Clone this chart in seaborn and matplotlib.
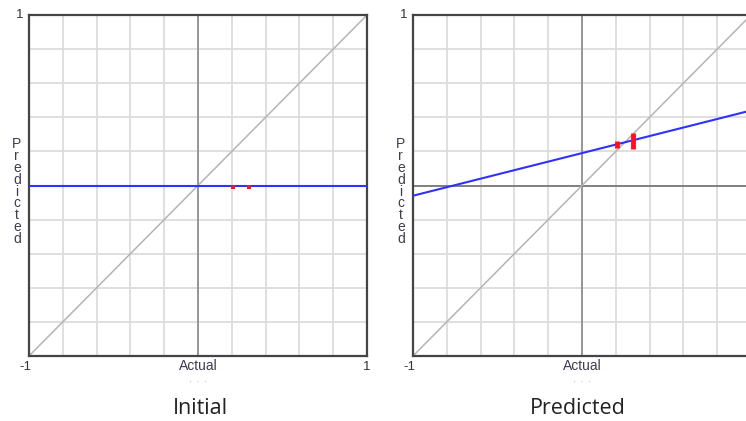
import numpy as np
import matplotlib.pyplot as plt
import seaborn as sns

# ----------------------------
# data
# ----------------------------
panel_titles = ['Initial', 'Predicted']

fit_x = [-1.0, 1.0]
fit_y_initial = [0.0, 0.0]
fit_y_predicted = [-0.06, 0.44]

obs_x = [0.205, 0.30]
obs_y_initial = [-0.01, -0.01]
obs_y_predicted = [0.24, 0.26]
obs_err_predicted = [0.02, 0.047]

grid_ticks = np.linspace(-1, 1, 11)

# ----------------------------
# figure
# ----------------------------
sns.set_style("white")
plt.rcParams['font.family'] = ['Liberation Sans', 'DejaVu Sans']

fig = plt.figure(figsize=(7.46, 4.21), dpi=100)
ax_w = 338 / 746
ax_h = 341 / 421
ax_b = (421 - 356) / 421
ax1 = fig.add_axes([29 / 746, ax_b, ax_w, ax_h])
ax2 = fig.add_axes([413 / 746, ax_b, ax_w, ax_h])

label_col = '#3c3c4c'


def setup_panel(ax, show_right_label):
    ax.set_xlim(-1, 1)
    ax.set_ylim(-1, 1)
    ax.set_xticks(grid_ticks)
    ax.set_yticks(grid_ticks)
    ax.tick_params(length=0, labelbottom=False, labelleft=False)
    ax.grid(True, color='#dcdcdc', lw=1.3)
    ax.set_axisbelow(True)
    for s in ax.spines.values():
        s.set_color('#444444')
        s.set_linewidth(1.6)
    ax.axvline(0, color='#8a8a8a', lw=1.2, zorder=1)
    ax.axhline(0, color='#707070', lw=1.2, zorder=1)
    # identity line
    sns.lineplot(x=fit_x, y=fit_x, ax=ax, color='#b4b4b4', lw=1.1, zorder=2)
    ax.text(-0.015, 1.0, '1', transform=ax.transAxes, ha='right', va='center',
            fontsize=9.5, color='#333333')
    ax.text(-0.01, -0.033, '-1', transform=ax.transAxes, ha='center', va='center',
            fontsize=9.5, color='#333333')
    if show_right_label:
        ax.text(1.0, -0.033, '1', transform=ax.transAxes, ha='center', va='center',
                fontsize=9.5, color='#333333')
    ax.text(0.5, -0.03, 'Actual', transform=ax.transAxes, ha='center', va='center',
            fontsize=10, color=label_col)
    ax.text(0.5, -0.078, '·  ·  ·', transform=ax.transAxes, ha='center', va='center',
            fontsize=6, color='#9a9a9a')
    ax.text(-0.036, 0.482, '\n'.join('Predicted'), transform=ax.transAxes,
            ha='center', va='center', fontsize=10, linespacing=0.8, color=label_col)
    ax.set_xlabel('')
    ax.set_ylabel('')


setup_panel(ax1, True)
setup_panel(ax2, False)

# initial panel
sns.lineplot(x=fit_x, y=fit_y_initial, ax=ax1, color='#3030ff', lw=1.5, zorder=3)
sns.scatterplot(x=obs_x, y=obs_y_initial, ax=ax1, color='#ff1020', marker='s',
                s=12, linewidth=0, zorder=4)

# predicted panel
sns.lineplot(x=fit_x, y=fit_y_predicted, ax=ax2, color='#3030ff', lw=1.5, zorder=3)
ax2.errorbar(obs_x, obs_y_predicted, yerr=obs_err_predicted, fmt='none',
             ecolor='#ff1020', elinewidth=3.5, capsize=0, zorder=4)

for ax in (ax1, ax2):
    leg = ax.get_legend()
    if leg is not None:
        leg.remove()

fig.text(200 / 746, 1 - 408 / 421, panel_titles[0], ha='center', va='center',
         fontsize=15.5, family='Open Sans', color='#222222')
fig.text(578 / 746, 1 - 408 / 421, panel_titles[1], ha='center', va='center',
         fontsize=15.5, family='Open Sans', color='#222222')

fig.savefig('out.png', dpi=100)
